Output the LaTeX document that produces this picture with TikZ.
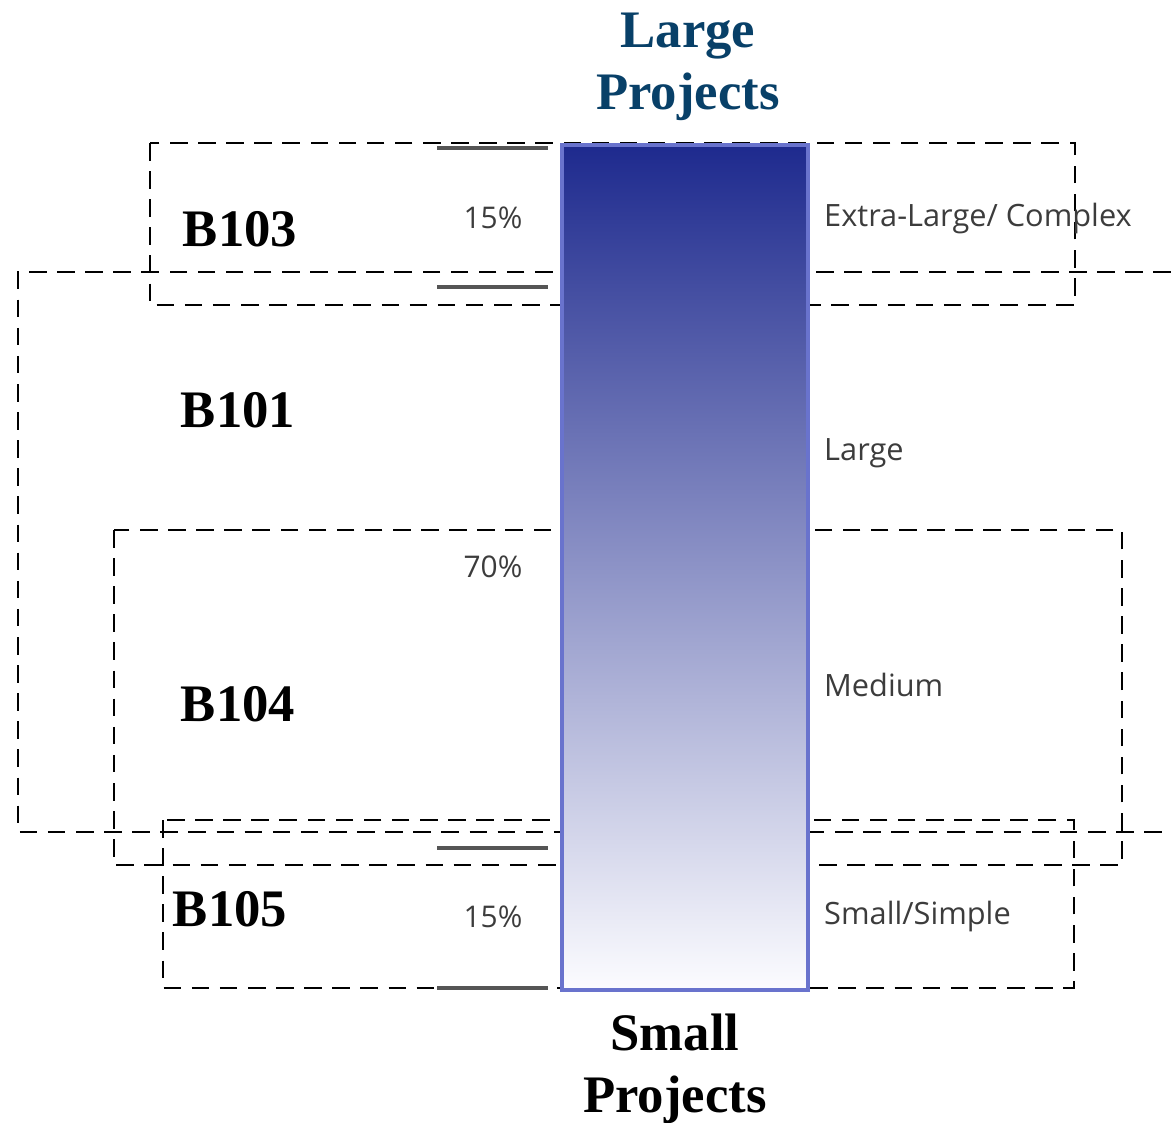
\documentclass[tikz,border=0pt]{standalone}
\usepackage{fontspec}
\setmainfont{Liberation Serif}
\newfontfamily\labelfont{Open Sans}
\usetikzlibrary{positioning,calc}
\definecolor{barTop}{RGB}{30,42,142}
\definecolor{barBot}{RGB}{252,252,255}
\definecolor{barEdge}{RGB}{105,115,205}
\definecolor{titleBlue}{RGB}{8,64,104}
\definecolor{tickGray}{RGB}{85,85,85}
\definecolor{textGray}{RGB}{60,60,60}

\begin{document}
\begin{tikzpicture}[
    x=0.02cm, y=-0.02cm,
    dashbox/.style={draw, line width=1.1pt, dash pattern=on 10pt off 6pt},
    bar/.style={rectangle, draw=barEdge, line width=2pt, top color=barTop, bottom color=barBot, minimum width=4.92cm, minimum height=16.9cm, inner sep=0pt},
    tick/.style={draw=tickGray, line width=1.8pt},
    group/.style={font=\fontsize{30}{34}\selectfont\bfseries},
    title/.style={font=\fontsize{30}{35.5}\selectfont\bfseries, align=center},
    pct/.style={font=\labelfont\fontsize{17}{20}\selectfont, text=textGray},
    size/.style={font=\labelfont\fontsize{17.5}{20}\selectfont, text=textGray, anchor=west}
]
\useasboundingbox (0,0) rectangle (1171,1123);

% Dashed groups
\draw[dashbox] (150,143) rectangle (1075,305);
\draw[dashbox] (1171,272) -- (18,272) -- (18,832) -- (1171,832);
\draw[dashbox] (114,530) rectangle (1122,865);
\draw[dashbox] (163,820) rectangle (1074,988);

% Project size bar
\node[bar] (bar) at (685,567.5) {};

% Tick marks
\draw[tick] (437,148) -- (548,148);
\draw[tick] (437,287) -- (548,287);
\draw[tick] (437,848) -- (548,848);
\draw[tick] (437,988) -- (548,988);

% Titles
\node[title, text=titleBlue] (large) at (688,67) {Large\\Projects};
\node[title] (small) at (675,1069) {Small\\Projects};

% Group labels
\node[group] (b103) at (240,229) {B103};
\node[group] (b101) at (238,410) {B101};
\node[group] (b104) at (238,704) {B104};
\node[group] (b105) at (230,909) {B105};

% Shares
\node[pct] (p1) at (493,218) {15\%};
\node[pct] (p2) at (493,567) {70\%};
\node[pct] (p3) at (493,917) {15\%};

% Size classes
\node[size] (xl) at (818,219) {Extra-Large/ Complex};
\node[size] (lg) at (818,453) {Large};
\node[size] (md) at (818,685) {Medium};
\node[size] (sm) at (818,917) {Small/Simple};

\end{tikzpicture}
\end{document}
